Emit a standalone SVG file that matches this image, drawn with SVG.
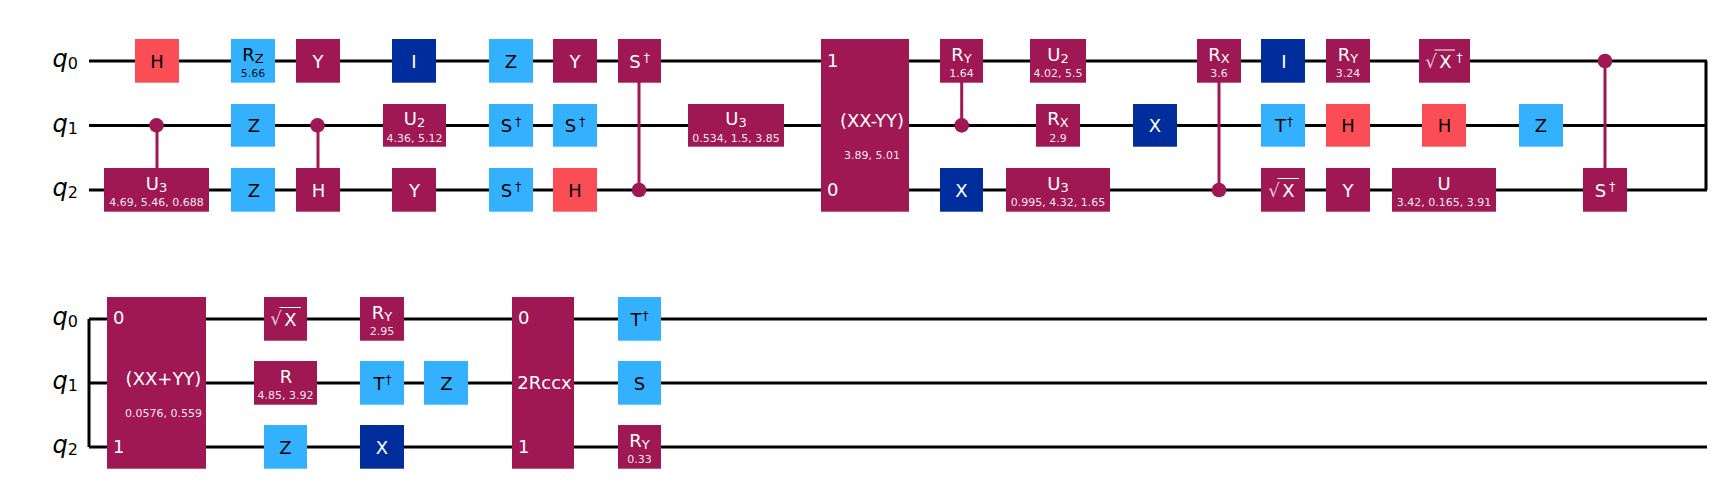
<svg xmlns="http://www.w3.org/2000/svg" width="1722" height="496" viewBox="0 0 1722 496">
<style>
text{font-family:"DejaVu Sans","Liberation Sans",sans-serif;font-size:18px;text-anchor:middle}
.p{fill:#9f1853}.b{fill:#33b1ff}.r{fill:#fa4d56}.d{fill:#002d9c}
.w text{fill:#fff}.k text{fill:#000}
.w text.s,.k text.s{font-size:11px;fill-opacity:.92}
text.l{text-anchor:start}
.q text{font-size:24px;fill:#000;text-anchor:start}
.wire{stroke:#000;stroke-width:3;fill:none}
.c{stroke:#9f1853;stroke-width:3;fill:none}
.dot{fill:#9f1853}
.v{stroke:#fff;stroke-width:1;fill:none}
.sb{font-size:13px}
.sp{font-size:12px}
</style>
<rect width="1722" height="496" fill="#fff"/>
<g id="connectors">
<path class="wire" d="M89 61H1707M89 125.4H1707M89 190H1707M1706 61V190M89 319H1707M89 383H1707M89 447H1707M89 319V447"/>
<path class="c" d="M157 125.4V168M318 125.4V168M639 82V190M961.7 82V125.4M1219 82V190M1605 61V168"/>
</g>
<g id="labels" class="q">
<text x="52.5" y="67"><tspan font-style="italic">q</tspan><tspan font-size="16" dy="2">0</tspan></text>
<text x="52.5" y="131.5"><tspan font-style="italic">q</tspan><tspan font-size="16" dy="2">1</tspan></text>
<text x="52.5" y="196"><tspan font-style="italic">q</tspan><tspan font-size="16" dy="2">2</tspan></text>
<text x="52.5" y="325"><tspan font-style="italic">q</tspan><tspan font-size="16" dy="2">0</tspan></text>
<text x="52.5" y="389"><tspan font-style="italic">q</tspan><tspan font-size="16" dy="2">1</tspan></text>
<text x="52.5" y="453"><tspan font-style="italic">q</tspan><tspan font-size="16" dy="2">2</tspan></text>
</g>
<g id="ctrl1"><circle class="dot" cx="156.5" cy="125.4" r="7.3"/></g>
<g id="ctrl2"><circle class="dot" cx="317.5" cy="125.4" r="7.3"/></g>
<g id="ctrl3"><circle class="dot" cx="639" cy="190" r="7.3"/></g>
<g id="ctrl4"><circle class="dot" cx="961.7" cy="125.4" r="7.3"/></g>
<g id="ctrl5"><circle class="dot" cx="1219" cy="190" r="7.3"/></g>
<g id="ctrl6"><circle class="dot" cx="1605" cy="61" r="7.3"/></g>

<g id="g-h1" class="k"><rect class="r" x="135" y="39" width="44" height="43.7"/><text x="157" y="67.5">H</text></g>
<g id="g-u3a" class="w"><rect class="p" x="104" y="168" width="105" height="43.7"/><text x="156.5" y="190">U<tspan class="sb" dy="2">3</tspan></text><text class="s" x="156.5" y="206">4.69, 5.46, 0.688</text></g>
<g id="g-rz" class="k"><rect class="b" x="231" y="39" width="44" height="43.7"/><text x="253" y="61">R<tspan class="sb" dy="2">Z</tspan></text><text class="s" x="253" y="77">5.66</text></g>
<g id="g-z1" class="k"><rect class="b" x="231" y="104" width="44" height="42.7"/><text x="254" y="132">Z</text></g>
<g id="g-z2" class="k"><rect class="b" x="231" y="168" width="44" height="43.7"/><text x="254" y="196.5">Z</text></g>
<g id="g-y1" class="w"><rect class="p" x="296" y="39" width="44" height="43.7"/><text x="318" y="67.5">Y</text></g>
<g id="g-h2" class="w"><rect class="p" x="296" y="168" width="44" height="43.7"/><text x="318.5" y="196.5">H</text></g>
<g id="g-i1" class="w"><rect class="d" x="392" y="39" width="44" height="43.7"/><text x="414" y="67.5">I</text></g>
<g id="g-u2a" class="w"><rect class="p" x="383" y="104" width="63" height="42.7"/><text x="414.5" y="125">U<tspan class="sb" dy="2">2</tspan></text><text class="s" x="414.5" y="141.5">4.36, 5.12</text></g>
<g id="g-y2" class="w"><rect class="p" x="392" y="168" width="44" height="43.7"/><text x="414.5" y="196.5">Y</text></g>
<g id="g-z3" class="k"><rect class="b" x="489" y="39" width="44" height="43.7"/><text x="511" y="67.5">Z</text></g>
<g id="g-sd1" class="k"><rect class="b" x="489" y="104" width="44" height="42.7"/><text x="511" y="132">S<tspan class="sp" dx="3" dy="-6">†</tspan></text></g>
<g id="g-sd2" class="k"><rect class="b" x="489" y="168" width="44" height="43.7"/><text x="511" y="196.5">S<tspan class="sp" dx="3" dy="-6">†</tspan></text></g>
<g id="g-y3" class="w"><rect class="p" x="553" y="39" width="44" height="43.7"/><text x="575" y="67.5">Y</text></g>
<g id="g-sd3" class="k"><rect class="b" x="553" y="104" width="44" height="42.7"/><text x="575" y="132">S<tspan class="sp" dx="3" dy="-6">†</tspan></text></g>
<g id="g-h3" class="k"><rect class="r" x="553" y="168" width="44" height="43.7"/><text x="575" y="196.5">H</text></g>
<g id="g-sd4" class="w"><rect class="p" x="618" y="39" width="43" height="43.7"/><text x="639.5" y="67.5">S<tspan class="sp" dx="3" dy="-6">†</tspan></text></g>
<g id="g-u3b" class="w"><rect class="p" x="688" y="104" width="96" height="42.7"/><text x="736" y="125">U<tspan class="sb" dy="2">3</tspan></text><text class="s" x="736" y="141.5">0.534, 1.5, 3.85</text></g>
<g id="g-xxyy" class="w"><rect class="p" x="821" y="39" width="88" height="172.7"/><text class="l" x="827" y="67">1</text><text class="l" x="827" y="196">0</text><text x="872" y="127">(XX-YY)</text><text class="s" x="872" y="159.3">3.89, 5.01</text></g>
<g id="g-ry1" class="w"><rect class="p" x="940" y="39" width="43" height="43.7"/><text x="961.5" y="61">R<tspan class="sb" dy="2">Y</tspan></text><text class="s" x="961.5" y="77">1.64</text></g>
<g id="g-x1" class="w"><rect class="d" x="940" y="168" width="43" height="43.7"/><text x="961.5" y="196.5">X</text></g>
<g id="g-u2b" class="w"><rect class="p" x="1030" y="39" width="56" height="43.7"/><text x="1058" y="61">U<tspan class="sb" dy="2">2</tspan></text><text class="s" x="1058" y="77">4.02, 5.5</text></g>
<g id="g-rx1" class="w"><rect class="p" x="1036" y="104" width="44" height="42.7"/><text x="1058" y="125">R<tspan class="sb" dy="2">X</tspan></text><text class="s" x="1058" y="141.5">2.9</text></g>
<g id="g-u3c" class="w"><rect class="p" x="1006" y="168" width="104" height="43.7"/><text x="1058" y="190">U<tspan class="sb" dy="2">3</tspan></text><text class="s" x="1058" y="206">0.995, 4.32, 1.65</text></g>
<g id="g-x2" class="w"><rect class="d" x="1133" y="104" width="44" height="42.7"/><text x="1155" y="132">X</text></g>
<g id="g-rx2" class="w"><rect class="p" x="1197" y="39" width="44" height="43.7"/><text x="1219" y="61">R<tspan class="sb" dy="2">X</tspan></text><text class="s" x="1219" y="77">3.6</text></g>
<g id="g-i2" class="w"><rect class="d" x="1261" y="39" width="44" height="43.7"/><text x="1284" y="67.5">I</text></g>
<g id="g-td1" class="k"><rect class="b" x="1261" y="104" width="44" height="42.7"/><text x="1284" y="132">T<tspan class="sp" dx="1" dy="-6">†</tspan></text></g>
<g id="g-sx1" class="w"><rect class="p" x="1261" y="168" width="44" height="43.7"/><text x="1274" y="197" font-size="15" fill-opacity=".8">√</text><path class="v" d="M1277.5 178.5H1299"/><text x="1288.5" y="196.5">X</text></g>
<g id="g-ry2" class="w"><rect class="p" x="1326" y="39" width="44" height="43.7"/><text x="1348" y="61">R<tspan class="sb" dy="2">Y</tspan></text><text class="s" x="1348" y="77">3.24</text></g>
<g id="g-h4" class="k"><rect class="r" x="1326" y="104" width="44" height="42.7"/><text x="1348" y="132">H</text></g>
<g id="g-y4" class="w"><rect class="p" x="1326" y="168" width="44" height="43.7"/><text x="1348" y="196.5">Y</text></g>
<g id="g-sxd" class="w"><rect class="p" x="1419" y="39" width="51" height="43.7"/><text x="1431" y="68" font-size="15" fill-opacity=".8">√</text><path class="v" d="M1434.5 50H1455"/><text x="1445.5" y="67.5">X</text><text class="sp" x="1459.5" y="62">†</text></g>
<g id="g-h5" class="k"><rect class="r" x="1422" y="104" width="44" height="42.7"/><text x="1444.5" y="132">H</text></g>
<g id="g-u" class="w"><rect class="p" x="1392" y="168" width="104" height="43.7"/><text x="1444" y="190">U</text><text class="s" x="1444" y="206">3.42, 0.165, 3.91</text></g>
<g id="g-z4" class="k"><rect class="b" x="1519" y="104" width="44" height="42.7"/><text x="1541" y="132">Z</text></g>
<g id="g-sd5" class="w"><rect class="p" x="1583" y="168" width="44" height="43.7"/><text x="1605" y="196.5">S<tspan class="sp" dx="3" dy="-6">†</tspan></text></g>

<g id="g-xpyy" class="w"><rect class="p" x="107" y="297" width="99" height="171.7"/><text class="l" x="113" y="324">0</text><text class="l" x="113" y="452.5">1</text><text x="163.5" y="385">(XX+YY)</text><text class="s" x="163.5" y="417">0.0576, 0.559</text></g>
<g id="g-sx2" class="w"><rect class="p" x="264" y="297" width="43" height="43.7"/><text x="276" y="325" font-size="15" fill-opacity=".8">√</text><path class="v" d="M279.5 307.5H301"/><text x="290.5" y="325.5">X</text></g>
<g id="g-r" class="w"><rect class="p" x="254" y="361" width="63" height="43.7"/><text x="286" y="383">R</text><text class="s" x="285.5" y="399">4.85, 3.92</text></g>
<g id="g-z5" class="k"><rect class="b" x="264" y="425" width="43" height="43.7"/><text x="285.5" y="453.5">Z</text></g>
<g id="g-ry3" class="w"><rect class="p" x="360" y="297" width="44" height="43.7"/><text x="382" y="319">R<tspan class="sb" dy="2">Y</tspan></text><text class="s" x="382" y="335">2.95</text></g>
<g id="g-td2" class="k"><rect class="b" x="360" y="361" width="44" height="43.7"/><text x="382.5" y="389.5">T<tspan class="sp" dx="1" dy="-6">†</tspan></text></g>
<g id="g-x3" class="w"><rect class="d" x="360" y="425" width="44" height="43.7"/><text x="382" y="453.5">X</text></g>
<g id="g-z6" class="k"><rect class="b" x="424" y="361" width="44" height="43.7"/><text x="446.5" y="389.5">Z</text></g>
<g id="g-rccx" class="w"><rect class="p" x="512" y="297" width="62" height="171.7"/><text class="l" x="518" y="324">0</text><text class="l" x="518" y="452.5">1</text><text x="544.5" y="388.5">2Rccx</text></g>
<g id="g-td3" class="k"><rect class="b" x="618" y="297" width="43" height="43.7"/><text x="639.5" y="325.5">T<tspan class="sp" dx="1" dy="-6">†</tspan></text></g>
<g id="g-s" class="k"><rect class="b" x="618" y="361" width="43" height="43.7"/><text x="639.5" y="389.5">S</text></g>
<g id="g-ry4" class="w"><rect class="p" x="618" y="425" width="43" height="43.7"/><text x="639.5" y="447">R<tspan class="sb" dy="2">Y</tspan></text><text class="s" x="639.5" y="463">0.33</text></g>
</svg>
